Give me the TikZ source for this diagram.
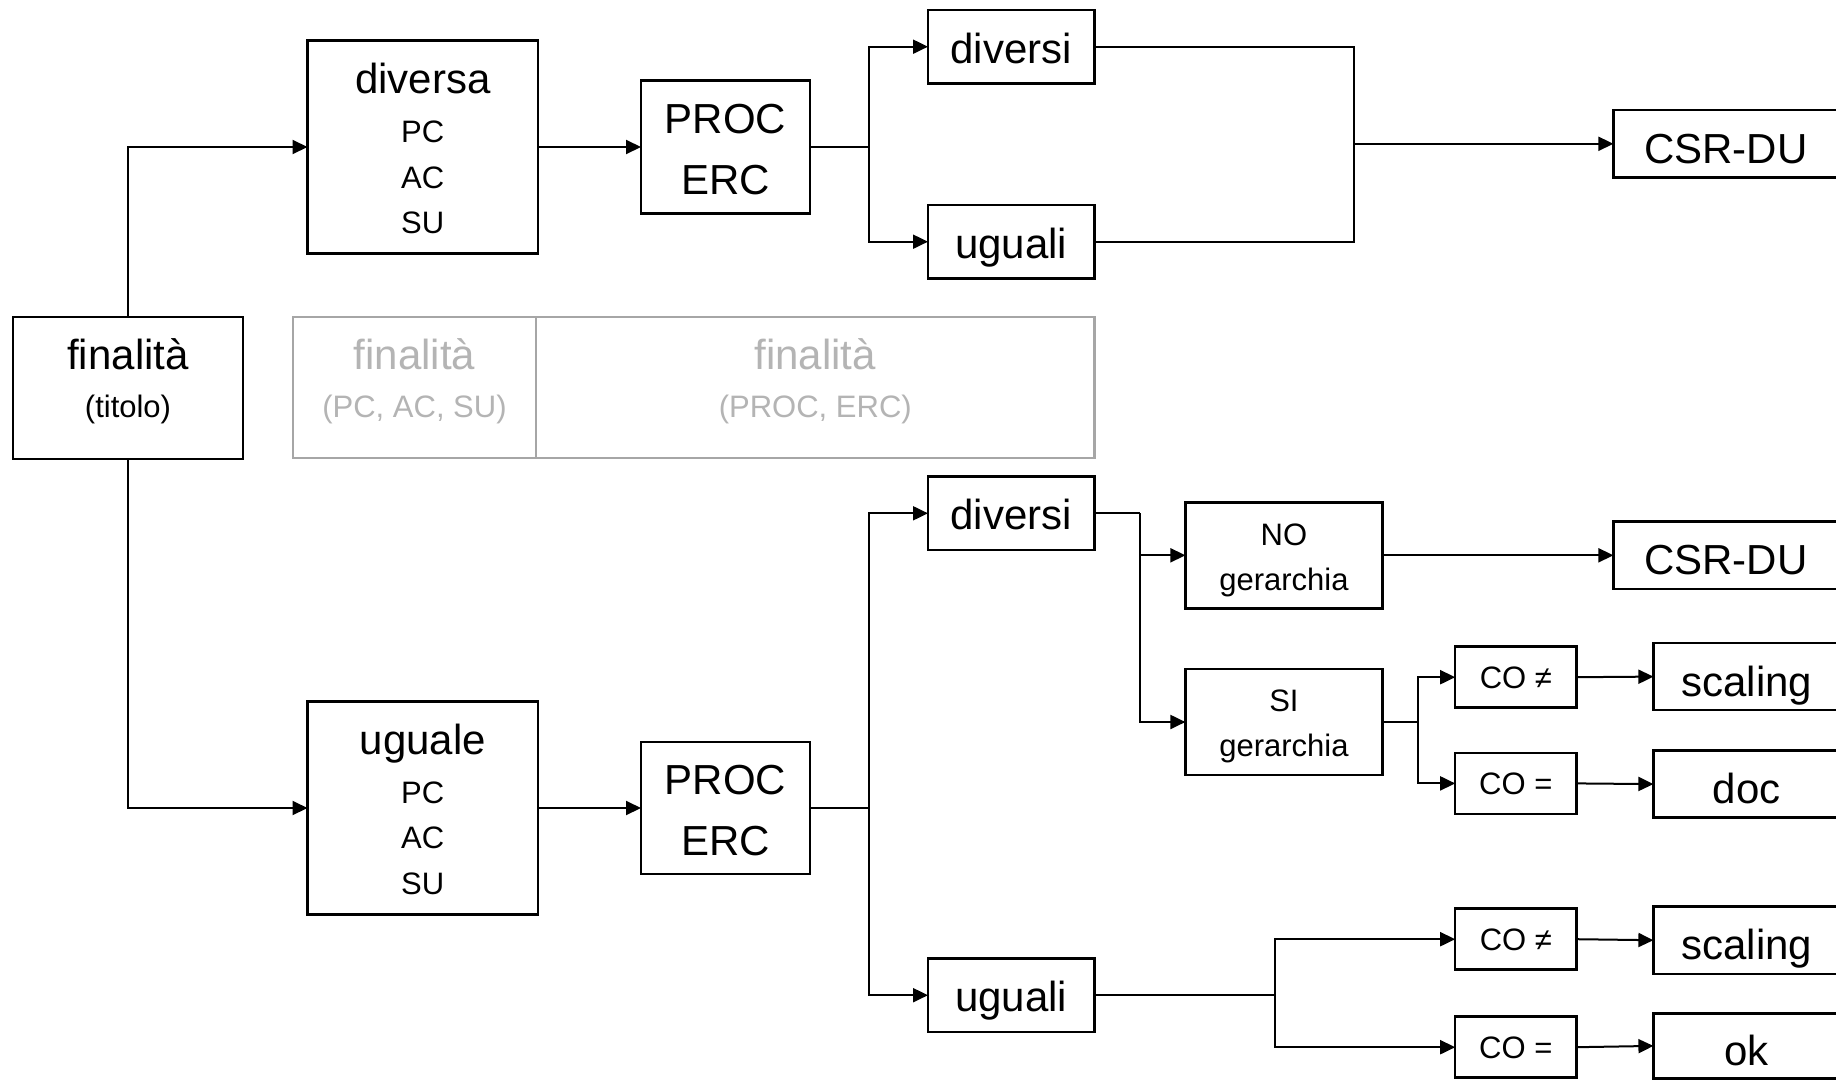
\documentclass[tikz,border=0pt]{standalone}
\usepackage{fontspec}
\setmainfont{Liberation Sans}
\usetikzlibrary{arrows.meta}
\definecolor{greyline}{HTML}{A6A6A6}
\definecolor{greytext}{HTML}{B4B4B4}

\begin{document}
\begin{tikzpicture}[x=1pt, y=-1pt,
  box/.style={draw=black, line width=2.5pt, rectangle, inner sep=0pt, outer sep=0pt},
  greybox/.style={draw=greyline, line width=2.5pt, rectangle, inner sep=0pt, outer sep=0pt},
  bigtxt/.style={font=\fontsize{42}{48}\selectfont},
  smalltxt/.style={font=\fontsize{31}{36}\selectfont},
  midbox/.style={box, bigtxt, text height=40pt, text depth=7pt},
  endbox/.style={box, bigtxt, text height=44pt, text depth=5pt},
  cobox/.style={box, smalltxt, text height=28pt, text depth=5pt,
    minimum width=121.2pt, minimum height=61pt},
  line/.style={draw=black, line width=2pt},
  arr/.style={line, -{Triangle[length=15pt, width=14pt]}},
  tline/.style={anchor=base, inner sep=0pt}
]
\useasboundingbox (0,0) rectangle (1836,1079);
\fill[white] (0,0) rectangle (1836,1079);
\clip (0,0) rectangle (1836,1079);

% ---- root ----
\node[box, minimum width=230pt, minimum height=142pt] (fin) at (128,388) {};
\node[tline, bigtxt, yshift=-52.3pt] (fin-a) at (fin.north) {finalità};
\node[tline, smalltxt, yshift=-100pt] (fin-b) at (fin.north) {(titolo)};

% ---- grey legend ----
\node[greybox, minimum width=243pt, minimum height=141pt] (g1) at (414.5,387.5) {};
\node[tline, bigtxt, text=greytext, yshift=-52pt] (g1-a) at (g1.north) {finalità};
\node[tline, smalltxt, text=greytext, yshift=-100pt] (g1-b) at (g1.north) {(PC, AC, SU)};
\node[greybox, minimum width=558.6pt, minimum height=141pt] (g2) at (815.3,387.5) {};
\node[tline, bigtxt, text=greytext, yshift=-52pt] (g2-a) at (g2.north) {finalità};
\node[tline, smalltxt, text=greytext, yshift=-100pt] (g2-b) at (g2.north) {(PROC, ERC)};

% ---- upper branch ----
\node[box, minimum width=230.5pt, minimum height=212.6pt] (divA) at (422.75,147) {};
\node[tline, bigtxt, yshift=-52.8pt] (divA-a) at (divA.north) {diversa};
\node[tline, smalltxt, yshift=-101.5pt] (divA-b) at (divA.north) {PC};
\node[tline, smalltxt, yshift=-147.3pt] (divA-c) at (divA.north) {AC};
\node[tline, smalltxt, yshift=-192.5pt] (divA-d) at (divA.north) {SU};

\node[box, minimum width=169pt, minimum height=132.6pt] (proc1) at (725.5,147) {};
\node[tline, bigtxt, yshift=-52.8pt] (proc1-a) at (proc1.north) {PROC};
\node[tline, bigtxt, yshift=-114pt] (proc1-b) at (proc1.north) {ERC};

\node[midbox, minimum width=166.6pt, minimum height=73.3pt] (dvs1) at (1011.3,46.7) {diversi};
\node[midbox, minimum width=166.6pt, minimum height=73.3pt] (ugl1) at (1011.3,241.7) {uguali};
\node[endbox, minimum width=224.6pt, minimum height=67.7pt] (csr1) at (1725.7,143.8) {CSR-DU};

% ---- lower branch ----
\node[box, minimum width=230.5pt, minimum height=212.7pt] (ugA) at (422.75,808) {};
\node[tline, bigtxt, yshift=-52.8pt] (ugA-a) at (ugA.north) {uguale};
\node[tline, smalltxt, yshift=-101.5pt] (ugA-b) at (ugA.north) {PC};
\node[tline, smalltxt, yshift=-147.3pt] (ugA-c) at (ugA.north) {AC};
\node[tline, smalltxt, yshift=-192.5pt] (ugA-d) at (ugA.north) {SU};

\node[box, minimum width=169pt, minimum height=131.6pt] (proc2) at (725.5,808) {};
\node[tline, bigtxt, yshift=-52pt] (proc2-a) at (proc2.north) {PROC};
\node[tline, bigtxt, yshift=-113.5pt] (proc2-b) at (proc2.north) {ERC};

\node[midbox, minimum width=166.6pt, minimum height=73.3pt] (dvs2) at (1011.3,513.3) {diversi};
\node[midbox, minimum width=166.6pt, minimum height=73.3pt] (ugl2) at (1011.3,995.2) {uguali};

\node[box, minimum width=197pt, minimum height=106pt] (noh) at (1283.9,555.3) {};
\node[tline, smalltxt, yshift=-42.8pt] (noh-a) at (noh.north) {NO};
\node[tline, smalltxt, yshift=-88pt] (noh-b) at (noh.north) {gerarchia};
\node[box, minimum width=197pt, minimum height=106pt] (sih) at (1283.9,722) {};
\node[tline, smalltxt, yshift=-42.5pt] (sih-a) at (sih.north) {SI};
\node[tline, smalltxt, yshift=-87.5pt] (sih-b) at (sih.north) {gerarchia};

\node[endbox, minimum width=224.6pt, minimum height=67.3pt] (csr2) at (1725.7,555.3) {CSR-DU};

\node[cobox] (coa1) at (1515.8,677.2) {CO ≠};
\node[cobox] (cob1) at (1515.8,783.4) {CO =};
\node[cobox] (coa2) at (1515.8,939.2) {CO ≠};
\node[cobox] (cob2) at (1515.8,1047.2) {CO =};

\node[endbox, minimum width=186.6pt, minimum height=67.2pt] (sc1) at (1746.7,676.6) {scaling};
\node[endbox, minimum width=186.6pt, minimum height=67.2pt] (doc) at (1746.7,784.1) {doc};
\node[endbox, minimum width=186.6pt, minimum height=67.2pt] (sc2) at (1746.7,940.2) {scaling};
\node[endbox, minimum width=186.6pt, minimum height=65.2pt] (okb) at (1746.7,1045.9) {ok};

% ---- junction points ----
\coordinate (j1) at (868.5,147);
\coordinate (j2) at (1353.7,143.8);
\coordinate (j3) at (868.5,808);
\coordinate (j4) at (1140,513.3);
\coordinate (j5) at (1418.2,722);
\coordinate (j6) at (1275,995.2);

% ---- connectors ----
\draw[arr] (fin.north) |- (divA.west);
\draw[arr] (fin.south) |- (ugA.west);
\draw[arr] (divA.east) -- (proc1.west);
\draw[arr] (ugA.east) -- (proc2.west);

\draw[line] (proc1.east) -- (j1);
\draw[arr] (j1) |- (dvs1.west);
\draw[arr] (j1) |- (ugl1.west);
\draw[line] (dvs1.east) -| (j2);
\draw[line] (ugl1.east) -| (j2);
\draw[arr] (j2) -- (csr1.west);

\draw[line] (proc2.east) -- (j3);
\draw[arr] (j3) |- (dvs2.west);
\draw[arr] (j3) |- (ugl2.west);

\draw[line] (dvs2.east) -- (j4);
\draw[arr] (j4) |- (noh.west);
\draw[arr] (j4) |- (sih.west);
\draw[arr] (noh.east) -- (csr2.west);

\draw[line] (sih.east) -- (j5);
\draw[arr] (j5) |- (coa1.west);
\draw[arr] (j5) |- (cob1.west);
\draw[arr] (coa1.east) -- (sc1.west);
\draw[arr] (cob1.east) -- (doc.west);

\draw[line] (ugl2.east) -- (j6);
\draw[arr] (j6) |- (coa2.west);
\draw[arr] (j6) |- (cob2.west);
\draw[arr] (coa2.east) -- (sc2.west);
\draw[arr] (cob2.east) -- (okb.west);
\end{tikzpicture}
\end{document}
